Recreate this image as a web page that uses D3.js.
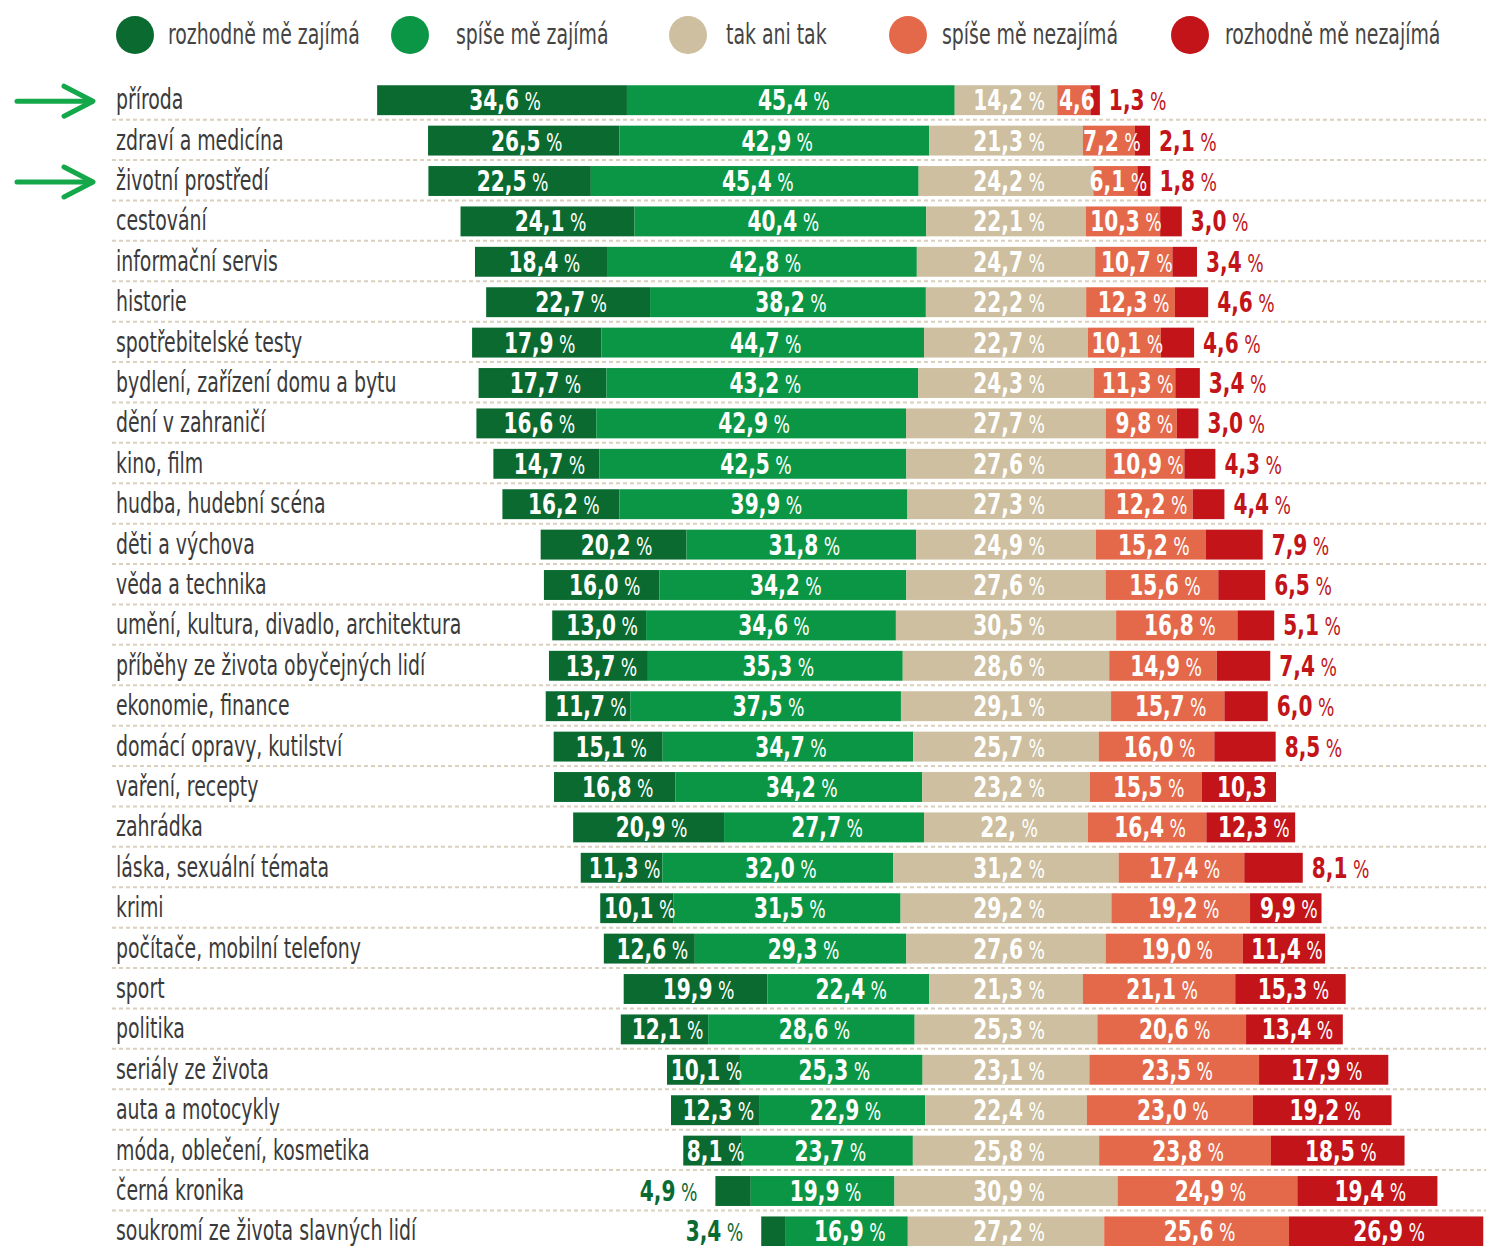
<!DOCTYPE html>
<html>
<head>
<meta charset="utf-8">
<script src="https://cdn.jsdelivr.net/npm/d3@7"></script>
<style>
  body { margin: 0; background: #fff; }
  text { font-family: "DejaVu Sans Condensed", "Liberation Sans Narrow", sans-serif; }
</style>
</head>
<body>
<div id="chart"></div>
<script>
// Categories, top to bottom
const categories = [
  "příroda", "zdraví a medicína", "životní prostředí", "cestování", "informační servis",
  "historie", "spotřebitelské testy", "bydlení, zařízení domu a bytu", "dění v zahraničí",
  "kino, film", "hudba, hudební scéna", "děti a výchova", "věda a technika",
  "umění, kultura, divadlo, architektura", "příběhy ze života obyčejných lidí",
  "ekonomie, finance", "domácí opravy, kutilství", "vaření, recepty", "zahrádka",
  "láska, sexuální témata", "krimi", "počítače, mobilní telefony", "sport", "politika",
  "seriály ze života", "auta a motocykly", "móda, oblečení, kosmetika", "černá kronika",
  "soukromí ze života slavných lidí"
];

// Series values (%)
const rozhodneZajima = [34.6, 26.5, 22.5, 24.1, 18.4, 22.7, 17.9, 17.7, 16.6, 14.7, 16.2, 20.2, 16.0, 13.0, 13.7, 11.7, 15.1, 16.8, 20.9, 11.3, 10.1, 12.6, 19.9, 12.1, 10.1, 12.3, 8.1, 4.9, 3.4];
const spiseZajima    = [45.4, 42.9, 45.4, 40.4, 42.8, 38.2, 44.7, 43.2, 42.9, 42.5, 39.9, 31.8, 34.2, 34.6, 35.3, 37.5, 34.7, 34.2, 27.7, 32.0, 31.5, 29.3, 22.4, 28.6, 25.3, 22.9, 23.7, 19.9, 16.9];
const takAniTak      = [14.2, 21.3, 24.2, 22.1, 24.7, 22.2, 22.7, 24.3, 27.7, 27.6, 27.3, 24.9, 27.6, 30.5, 28.6, 29.1, 25.7, 23.2, 22.7, 31.2, 29.2, 27.6, 21.3, 25.3, 23.1, 22.4, 25.8, 30.9, 27.2];
const spiseNezajima  = [4.6, 7.2, 6.1, 10.3, 10.7, 12.3, 10.1, 11.3, 9.8, 10.9, 12.2, 15.2, 15.6, 16.8, 14.9, 15.7, 16.0, 15.5, 16.4, 17.4, 19.2, 19.0, 21.1, 20.6, 23.5, 23.0, 23.8, 24.9, 25.6];
const rozhodneNezajima = [1.3, 2.1, 1.8, 3.0, 3.4, 4.6, 4.6, 3.4, 3.0, 4.3, 4.4, 7.9, 6.5, 5.1, 7.4, 6.0, 8.5, 10.3, 12.3, 8.1, 9.9, 11.4, 15.3, 13.4, 17.9, 19.2, 18.5, 19.4, 26.9];

const seriesNames = ["rozhodně mě zajímá", "spíše mě zajímá", "tak ani tak", "spíše mě nezajímá", "rozhodně mě nezajímá"];
const seriesValues = [rozhodneZajima, spiseZajima, takAniTak, spiseNezajima, rozhodneNezajima];
const colors = ["#0a6a30", "#0b9645", "#cdbf9f", "#e4694b", "#c21419"];

// labels printed differently in the original: [row, series, text]
const labelOverrides = [[0, 3, "4,6"], [17, 4, "10,3"], [18, 2, "22, %"]];
const highlighted = ["příroda", "životní prostředí"];

const width = 1486, height = 1246;
const squeeze = 0.75;     // narrow the condensed font a bit more
const numSqueeze = 0.8;

const svg = d3.select("#chart").append("svg")
  .attr("width", width)
  .attr("height", height);

// x: 0 = middle of the neutral segment
const x = d3.scaleLinear().domain([-50, 50]).range([645, 1367]);
const y = d3.scaleBand().domain(categories)
  .range([80, 80 + categories.length * 40.4])
  .paddingInner(0.26).paddingOuter(0.13);

const fmt = v => d3.format(".1f")(v).replace(".", ",");
const at = (px, py, s) => `translate(${px},${py}) scale(${s},1)`;

const rows = categories.map((c, i) => {
  const vals = seriesValues.map(s => s[i]);
  let start = -(vals[0] + vals[1] + vals[2] / 2);
  const segs = vals.map((v, k) => {
    const s = { row: i, k, v, x0: start, x1: start + v };
    start += v;
    return s;
  });
  return { cat: c, segs };
});

// legend
const legend = svg.append("g");
const legendX = [135, 410, 688, 908, 1190];
const legendTextX = [168, 456, 726, 942, 1225];
seriesNames.forEach((n, k) => {
  legend.append("circle").attr("cx", legendX[k]).attr("cy", 35).attr("r", 19).attr("fill", colors[k]);
  legend.append("text").attr("transform", at(legendTextX[k], 44, squeeze))
    .attr("font-size", 28).attr("fill", "#444").text(n);
});

// separators
svg.append("g").selectAll("line")
  .data(categories)
  .join("line")
  .attr("x1", 112).attr("x2", width)
  .attr("y1", d => y(d) + y.bandwidth() + 4.5)
  .attr("y2", d => y(d) + y.bandwidth() + 4.5)
  .attr("stroke", "#d9d0bd").attr("stroke-width", 2)
  .attr("stroke-dasharray", "4,3");

// category labels
svg.append("g").selectAll("text")
  .data(categories)
  .join("text")
  .attr("transform", d => at(116, y(d) + y.bandwidth() / 2 + 9, squeeze))
  .attr("font-size", 28)
  .attr("fill", "#3a3a3a")
  .text(d => d);

// arrows
const arrows = svg.append("g").attr("stroke", "#14a84a").attr("stroke-width", 5)
  .attr("fill", "none").attr("stroke-linecap", "round").attr("stroke-linejoin", "round");
highlighted.forEach(c => {
  const cy = y(c) + y.bandwidth() / 2 + 1;
  arrows.append("line").attr("x1", 17).attr("x2", 92).attr("y1", cy).attr("y2", cy);
  arrows.append("polyline").attr("points", `${64},${cy - 15} ${93},${cy} ${64},${cy + 15}`);
});

// bars
const rowG = svg.append("g").selectAll("g")
  .data(rows)
  .join("g")
  .attr("transform", d => `translate(0,${y(d.cat)})`);

rowG.selectAll("rect")
  .data(d => d.segs)
  .join("rect")
  .attr("x", d => x(d.x0))
  .attr("width", d => x(d.x1) - x(d.x0))
  .attr("height", y.bandwidth())
  .attr("fill", d => colors[d.k]);

// value labels
const labelText = (d) => {
  const o = labelOverrides.find(o => o[0] === d.row && o[1] === d.k);
  if (o) return o[2];
  return fmt(d.v) + " %";
};

rowG.selectAll("text")
  .data(d => d.segs)
  .join("text")
  .attr("font-weight", "bold")
  .attr("font-size", 28)
  .each(function(d) {
    const t = d3.select(this);
    let px, anchor = "middle", fill = "#fff";
    if (d.k === 4 && d.v < 9) {
      px = x(d.x1) + 9; anchor = "start"; fill = colors[4];
    } else if (d.k === 0 && d.v < 5) {
      px = x(d.x0) - 18; anchor = "end"; fill = colors[0];
    } else {
      px = (x(d.x0) + x(d.x1)) / 2 + 3;
    }
    t.attr("transform", at(px, y.bandwidth() / 2 + 10, numSqueeze))
      .attr("text-anchor", anchor).attr("fill", fill);
    const parts = labelText(d).split(" ");
    t.append("tspan").text(parts[0]);
    if (parts.length > 1) {
      t.append("tspan").attr("font-weight", "normal").attr("font-size", 24).text("\u00a0" + parts[1]);
    }
  });
</script>
</body>
</html>
